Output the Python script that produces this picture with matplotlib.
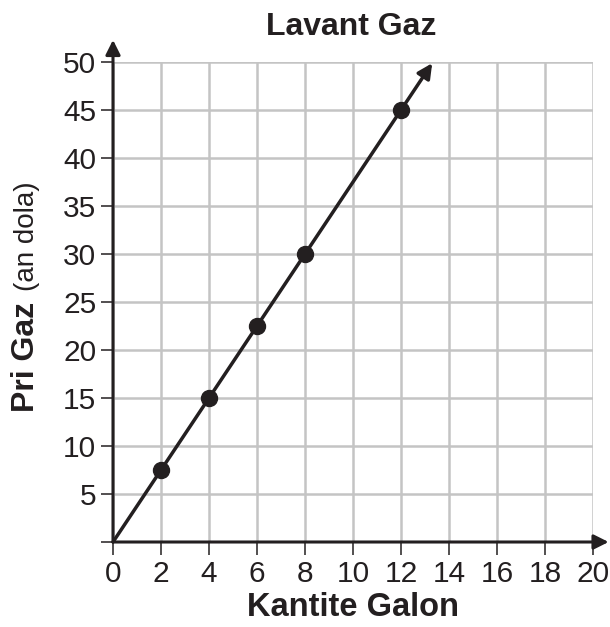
import matplotlib.pyplot as plt

plt.rcParams['font.family'] = ['Liberation Sans', 'DejaVu Sans']

# data
galon = [2, 4, 6, 8, 12]
pri = [7.5, 15, 22.5, 30, 45]
x_ticks = list(range(0, 21, 2))
y_ticks = list(range(0, 51, 5))
x_arrow_end = 13.3

ink = '#231f20'
W, H = 610, 627
fig = plt.figure(figsize=(W / 100, H / 100), dpi=100)
ax = fig.add_axes([113 / W, (H - 542) / H, 480 / W, 480 / H])

ax.set_xlim(0, 20)
ax.set_ylim(0, 50)
for s in ax.spines.values():
    s.set_visible(False)

ax.set_xticks(x_ticks)
ax.set_yticks(y_ticks)
ax.set_yticklabels(['' if v == 0 else str(v) for v in y_ticks])
ax.grid(True, color='#c4c4c4', lw=1.8)
ax.set_axisbelow(True)
ax.tick_params(length=9, width=1.1, color=ink, labelsize=21.5, labelcolor=ink)
ax.tick_params(axis='x', pad=4)
ax.tick_params(axis='y', pad=3)

# axes with arrows
ax.annotate('', xy=(20.65, 0), xytext=(0, 0), annotation_clip=False,
            arrowprops=dict(arrowstyle='-|>', color=ink, lw=2.2, mutation_scale=22,
                            shrinkA=0, shrinkB=0))
ax.annotate('', xy=(0, 52.3), xytext=(0, 0), annotation_clip=False,
            arrowprops=dict(arrowstyle='-|>', color=ink, lw=2.2, mutation_scale=22,
                            shrinkA=0, shrinkB=0))

# line through the points
slope = pri[0] / galon[0]
ax.annotate('', xy=(x_arrow_end, slope * x_arrow_end), xytext=(0, 0), annotation_clip=False,
            arrowprops=dict(arrowstyle='-|>', color=ink, lw=2.5, mutation_scale=22,
                            shrinkA=0, shrinkB=0))
ax.plot(galon, pri, 'o', color=ink, ms=11.5, zorder=5, clip_on=False)

fig.text(351 / W, 1 - 27 / H, 'Lavant Gaz', ha='center', va='center',
         fontsize=23, fontweight='bold', color=ink)
fig.text(353 / W, 1 - 608 / H, 'Kantite Galon', ha='center', va='center',
         fontsize=23.5, fontweight='bold', color=ink)
fig.text(26 / W, 1 - 412 / H, 'Pri Gaz', rotation=90, ha='center', va='bottom',
         fontsize=23, fontweight='bold', color=ink)
fig.text(27 / W, 1 - 181 / H, '(an dola)', rotation=90, ha='center', va='top',
         fontsize=20, color=ink)

fig.savefig('out.png', dpi=100)
